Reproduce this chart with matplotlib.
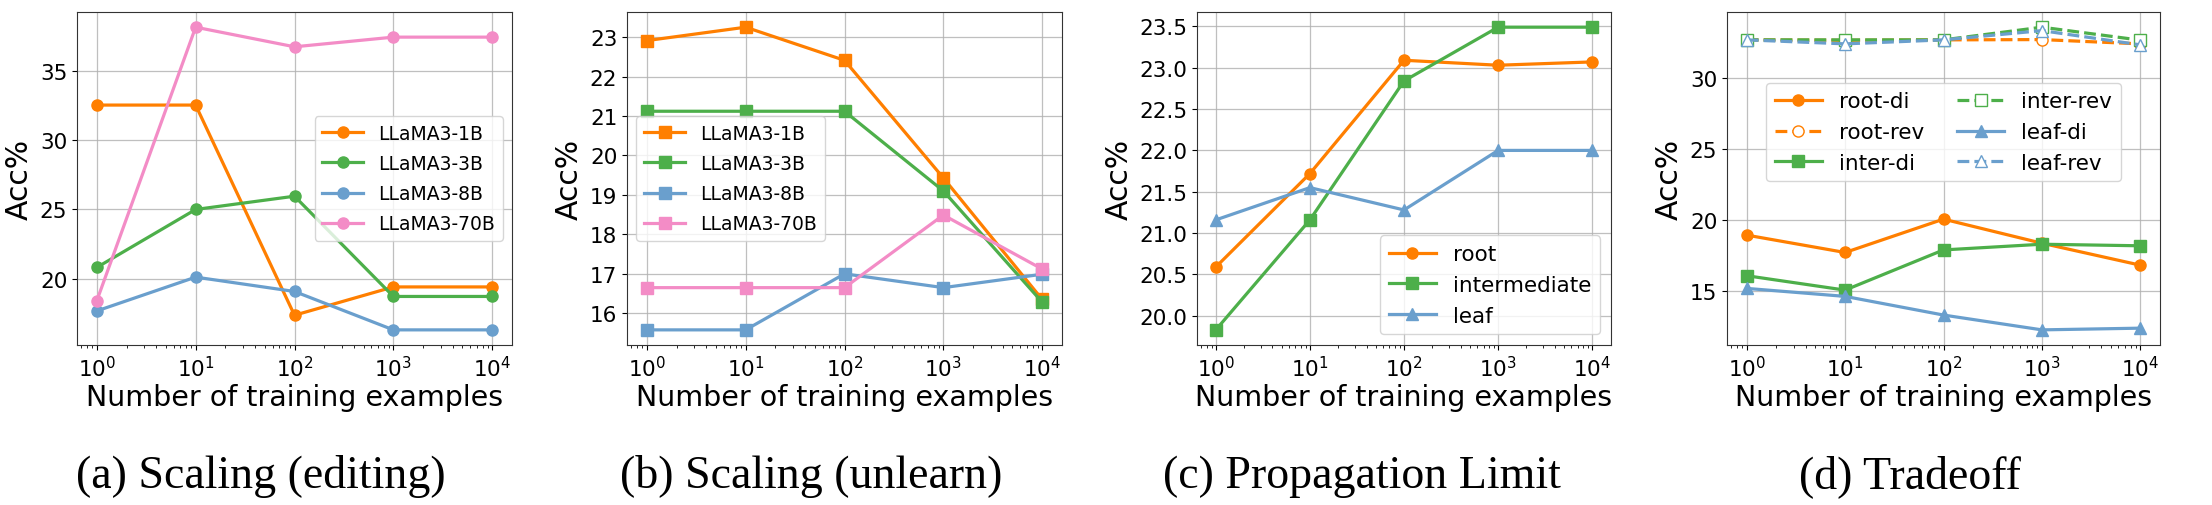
import matplotlib
matplotlib.use('Agg')
import matplotlib.pyplot as plt

# x values shared by every panel
steps = [1, 10, 100, 1000, 10000]

# (a) scaling, editing
edit_1b = [32.56, 32.56, 17.34, 19.39, 19.39]
edit_3b = [20.8, 25.0, 25.96, 18.7, 18.7]
edit_8b = [17.65, 20.1, 19.06, 16.28, 16.28]
edit_70b = [18.38, 38.2, 36.78, 37.48, 37.48]

# (b) scaling, unlearn
unl_1b = [22.91, 23.25, 22.41, 19.43, 16.35]
unl_3b = [21.12, 21.12, 21.12, 19.1, 16.28]
unl_8b = [15.58, 15.58, 17.0, 16.65, 16.99]
unl_70b = [16.65, 16.65, 16.65, 18.49, 17.12]

# (c) propagation limit
prop_root = [20.59, 21.72, 23.09, 23.03, 23.07]
prop_inter = [19.83, 21.16, 22.84, 23.49, 23.49]
prop_leaf = [21.16, 21.55, 21.28, 22.0, 22.0]

# (d) tradeoff
root_di = [18.95, 17.73, 20.07, 18.38, 16.84]
root_rev = [32.65, 32.62, 32.65, 32.67, 32.37]
inter_di = [16.1, 15.09, 17.91, 18.31, 18.2]
inter_rev = [32.65, 32.65, 32.65, 33.54, 32.63]
leaf_di = [15.21, 14.65, 13.34, 12.3, 12.42]
leaf_rev = [32.65, 32.37, 32.65, 33.3, 32.3]

models = ['LLaMA3-1B', 'LLaMA3-3B', 'LLaMA3-8B', 'LLaMA3-70B']
captions = ['(a) Scaling (editing)', '(b) Scaling (unlearn)',
            '(c) Propagation Limit', '(d) Tradeoff']

ORANGE = '#ff7f00'
GREEN = '#4daf4a'
BLUE = '#6a9fcd'
PINK = '#f38cc6'
colors4 = [ORANGE, GREEN, BLUE, PINK]

lw = 2.3
ms = 8

fig = plt.figure(figsize=(22.12, 5.06), dpi=100)
rects = [
    [77 / 2212, 0.3162, 435 / 2212, 0.658],
    [627 / 2212, 0.3162, 435 / 2212, 0.658],
    [1197 / 2212, 0.3162, 414 / 2212, 0.658],
    [1727 / 2212, 0.3162, 433 / 2212, 0.658],
]
axes = [fig.add_axes(r) for r in rects]


def style_axis(ax):
    ax.set_xscale('log')
    ax.grid(True, which='major', color='#b0b0b0', linewidth=0.9, alpha=0.8)
    ax.set_xlabel('Number of training examples', fontsize=20.5, labelpad=2)
    ax.set_ylabel('Acc%', fontsize=21.5, labelpad=4)
    ax.tick_params(axis='both', which='major', labelsize=15.5)
    for s in ax.spines.values():
        s.set_color('#333333')


# (a)
ax = axes[0]
for vals, name, c in zip([edit_1b, edit_3b, edit_8b, edit_70b], models, colors4):
    ax.plot(steps, vals, marker='o', color=c, lw=lw, ms=ms, label=name)
style_axis(ax)
ax.set_yticks([20, 25, 30, 35])
ax.legend(loc='center right', fontsize=13.5, handlelength=2.2, labelspacing=0.6)

# (b)
ax = axes[1]
for vals, name, c in zip([unl_1b, unl_3b, unl_8b, unl_70b], models, colors4):
    ax.plot(steps, vals, marker='s', color=c, lw=lw, ms=ms, label=name)
style_axis(ax)
ax.set_yticks(range(16, 24))
ax.legend(loc='center left', fontsize=13.5, handlelength=2.2, labelspacing=0.6)

# (c)
ax = axes[2]
ax.plot(steps, prop_root, marker='o', color=ORANGE, lw=lw, ms=ms, label='root')
ax.plot(steps, prop_inter, marker='s', color=GREEN, lw=lw, ms=ms, label='intermediate')
ax.plot(steps, prop_leaf, marker='^', color=BLUE, lw=lw, ms=ms, label='leaf')
style_axis(ax)
ax.set_yticks([20.0, 20.5, 21.0, 21.5, 22.0, 22.5, 23.0, 23.5])
ax.legend(loc='lower right', fontsize=15.5, handlelength=2.2)

# (d)
ax = axes[3]
ax.plot(steps, root_di, marker='o', color=ORANGE, lw=lw, ms=ms, label='root-di')
ax.plot(steps, root_rev, marker='o', color=ORANGE, lw=lw, ms=ms, ls='--',
        mfc='white', label='root-rev')
ax.plot(steps, inter_di, marker='s', color=GREEN, lw=lw, ms=ms, label='inter-di')
ax.plot(steps, inter_rev, marker='s', color=GREEN, lw=lw, ms=ms, ls='--',
        mfc='white', label='inter-rev')
ax.plot(steps, leaf_di, marker='^', color=BLUE, lw=lw, ms=ms, label='leaf-di')
ax.plot(steps, leaf_rev, marker='^', color=BLUE, lw=lw, ms=ms, ls='--',
        mfc='white', label='leaf-rev')
style_axis(ax)
ax.set_yticks([15, 20, 25, 30])
ax.legend(loc='upper center', bbox_to_anchor=(0.5, 0.82), ncol=2,
          fontsize=15.5, handlelength=2.2, columnspacing=1.5)

# captions under each panel
cap_x = [261 / 2212, 811 / 2212, 1362 / 2212, 1910 / 2212]
for x, text in zip(cap_x, captions):
    fig.text(x, 1 - 488 / 506, text, ha='center', va='baseline',
             fontsize=33, family='Liberation Serif')

fig.savefig('out.png', dpi=100)
